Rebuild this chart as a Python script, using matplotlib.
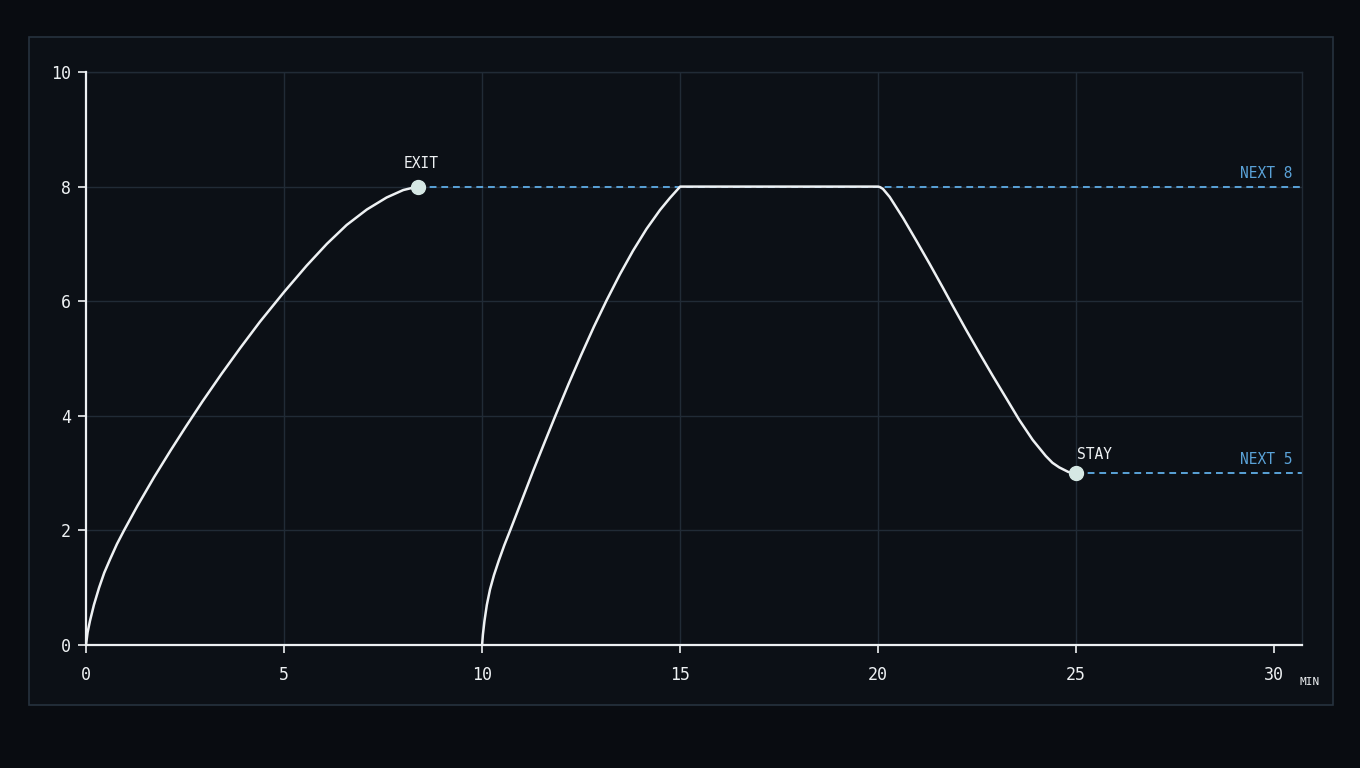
import numpy as np
import matplotlib.pyplot as plt
from matplotlib.patches import Rectangle

# values (minutes, level)
rise1_x = [0.0, 0.04, 0.10, 0.20, 0.33, 0.46, 0.61, 0.78, 0.96, 1.30, 1.72, 2.14, 2.52,
           2.94, 3.42, 3.89, 4.39, 5.0, 5.57, 6.08, 6.58, 7.09, 7.59, 8.01, 8.37]
rise1_y = [0.0, 0.22, 0.42, 0.70, 1.0, 1.26, 1.50, 1.76, 2.0, 2.43, 2.93, 3.40, 3.81,
           4.25, 4.73, 5.18, 5.64, 6.16, 6.62, 7.00, 7.33, 7.60, 7.81, 7.94, 8.0]
rise2_x = [10.0, 10.02, 10.06, 10.12, 10.20, 10.30, 10.42, 10.56, 10.72, 11.00, 11.29,
           11.58, 11.85, 12.18, 12.50, 12.82, 13.14, 13.48, 13.81, 14.15, 14.49, 14.74,
           15.0, 20.0, 20.05, 20.12, 20.29, 20.63, 20.96, 21.30, 21.63, 21.89, 22.22,
           22.56, 22.89, 23.23, 23.56, 23.90, 24.23, 24.40, 24.57, 24.80, 25.0]
rise2_y = [0.0, 0.18, 0.42, 0.70, 0.97, 1.22, 1.47, 1.74, 2.02, 2.52, 3.04,
           3.54, 4.0, 4.55, 5.06, 5.55, 6.01, 6.47, 6.88, 7.26, 7.59, 7.80,
           8.0, 8.0, 7.99, 7.96, 7.82, 7.45, 7.06, 6.65, 6.24, 5.91, 5.50,
           5.09, 4.70, 4.31, 3.93, 3.58, 3.30, 3.18, 3.10, 3.02, 3.0]
points = [(8.37, 8.0, "EXIT"), (25.0, 3.0, "STAY")]
next_levels = [(8.37, 8.0, "NEXT 8"), (25.0, 3.0, "NEXT 5")]
xticks = [0, 5, 10, 15, 20, 25, 30]
yticks = [0, 2, 4, 6, 8, 10]
xmax = 30.7

bg = "#090c11"
panel = "#0c1016"
grid_c = "#212b36"
fg = "#eef1f3"
blue = "#5aa2d8"
dot = "#d6e8e4"

plt.rcParams['font.family'] = ['DejaVu Sans Mono']
fig = plt.figure(figsize=(13.6, 7.68), dpi=100, facecolor=bg)
fig.patches.append(Rectangle((29/1360, 1-705/768), 1304/1360, 668/768, transform=fig.transFigure,
                             facecolor=panel, edgecolor="#26323e", linewidth=1.2, zorder=-10))

ax = fig.add_axes([86/1360, 1-645/768, (1302-86)/1360, (645-72)/768])
ax.set_zorder(1)
ax.set_facecolor(panel)
ax.set_xlim(0, xmax)
ax.set_ylim(0, 10)

for v in xticks[1:-1]:
    ax.axvline(v, color=grid_c, lw=1, zorder=1)
for v in yticks[1:]:
    ax.axhline(v, color=grid_c, lw=1, zorder=1)

ax.plot(rise1_x, rise1_y, color=fg, lw=1.8, zorder=3, solid_joinstyle='round')
ax.plot(rise2_x, rise2_y, color=fg, lw=1.8, zorder=3, solid_joinstyle='round')

for (x0, y0, lab) in next_levels:
    ax.plot([x0, xmax], [y0, y0], color=blue, lw=1.4, ls=(0, (3.5, 2.5)), zorder=2)
    ax.text(xmax - 0.25, y0 + 0.1, lab, color=blue, fontsize=10.5, ha='right', va='bottom')

for (x0, y0, lab) in points:
    ax.plot(x0, y0, 'o', ms=10, color=dot, zorder=4)
ax.text(points[0][0] + 0.08, points[0][1] + 0.28, points[0][2], color=fg, fontsize=10.5,
        ha='center', va='bottom')
ax.text(points[1][0] + 0.03, points[1][1] + 0.2, points[1][2], color=fg, fontsize=10.5,
        ha='left', va='bottom')

for s in ['top', 'right']:
    ax.spines[s].set_color(grid_c)
    ax.spines[s].set_linewidth(1)
for s in ['left', 'bottom']:
    ax.spines[s].set_color(fg)
    ax.spines[s].set_linewidth(1.6)
    ax.spines[s].set_zorder(5)

ax.set_xticks(xticks)
ax.set_yticks(yticks)
ax.tick_params(colors=fg, labelcolor=fg, labelsize=12, length=6, width=1.2)
ax.tick_params(axis='x', pad=9)
ax.tick_params(axis='y', pad=5)
fig.text(1310/1360, 1-682/768, "MIN", color=fg, fontsize=8, ha='center', va='center')

plt.savefig("out.png", dpi=100, facecolor=bg)
